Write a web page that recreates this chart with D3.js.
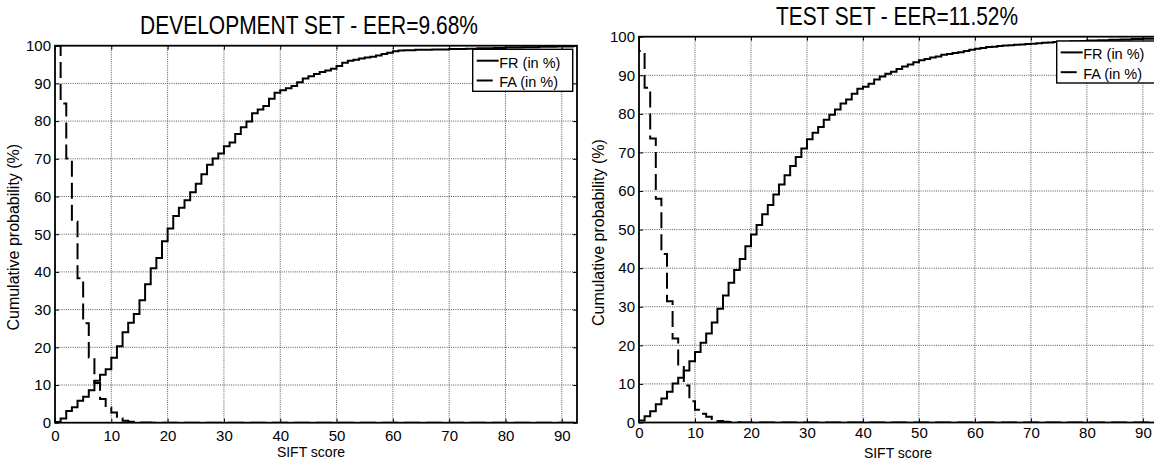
<!DOCTYPE html>
<html><head><meta charset="utf-8">
<script src="https://cdn.jsdelivr.net/npm/d3@7"></script>
<style>
body{margin:0;background:#fff}
svg{display:block;background:#fff}
text{font-family:"Liberation Sans",Arial,Helvetica,sans-serif;fill:#000}
</style>
</head><body>
<svg id="c" width="1154" height="462"></svg>
<script>
// ---------- DATA ----------
const xTickLabels = [0,10,20,30,40,50,60,70,80,90];
const yTickLabels = [0,10,20,30,40,50,60,70,80,90,100];
const seriesNames = ["FR (in %)", "FA (in %)"];
const titles = ["DEVELOPMENT SET - EER=9.68%", "TEST SET - EER=11.52%"];
const xLabel = "SIFT score";
const yLabel = "Cumulative probability (%)";
const scoreMax = 92.7;

// value of each 1-point score bin, bins starting at 0,1,2,...,92
const devFR = [0.2,1.1,3.1,4.1,5.8,6.9,8.6,11.1,12.7,14.2,
  17.2,20.3,24.0,26.5,28.8,32.5,36.7,41.0,43.7,48.1,
  51.5,54.8,57.0,59.0,61.1,63.4,65.9,68.4,70.1,71.4,
  73.3,74.3,76.6,78.4,79.9,82.1,83.1,84.0,85.9,87.5,
  88.2,88.7,89.3,90.3,91.3,91.9,92.5,93.0,93.4,93.9,
  94.6,95.5,96.0,96.3,96.6,96.9,97.1,97.4,97.8,98.1,
  98.5,98.7,98.8,98.8,98.9,98.9,98.9,99.0,99.0,99.0,
  99.1,99.1,99.1,99.2,99.2,99.3,99.3,99.3,99.4,99.4,
  99.5,99.5,99.5,99.6,99.6,99.6,99.7,99.7,99.7,99.8,
  99.8,99.8,99.9];
const devFAStart = 100;
const devFA = [100,84.7,70.1,53.3,38.3,26.4,17.3,10.5,6.3,4.0,
  2.7,1.2,0.5,0.25,0.12,0.06,0.03,0,0,0,
  0,0,0,0,0,0,0,0,0,0, 0,0,0,0,0,0,0,0,0,0,
  0,0,0,0,0,0,0,0,0,0, 0,0,0,0,0,0,0,0,0,0,
  0,0,0,0,0,0,0,0,0,0, 0,0,0,0,0,0,0,0,0,0,
  0,0,0,0,0,0,0,0,0,0, 0,0,0];

const testFR = [0.5,1.6,2.9,4.7,6.2,8.0,10.1,11.6,13.5,15.9,
  18.3,20.7,23.1,25.9,29.5,32.9,36.2,39.5,42.4,45.7,
  48.7,51.2,54.0,56.4,59.1,61.7,64.1,66.5,68.8,71.0,
  73.4,75.1,76.6,78.5,79.8,81.1,82.7,83.7,85.2,86.5,
  87.0,87.8,88.9,89.7,90.4,90.9,91.6,92.3,92.8,93.4,
  93.9,94.2,94.6,94.9,95.3,95.5,95.8,96.0,96.3,96.6,
  96.9,97.1,97.3,97.4,97.6,97.7,97.8,97.9,98.0,98.1,
  98.2,98.3,98.4,98.5,98.6,98.7,98.7,98.8,98.8,98.9,
  99.0,99.0,99.1,99.1,99.2,99.2,99.3,99.3,99.4,99.4,
  99.5,99.5,99.5];
const testFAStart = 100;
const testFA = [96.3,86.8,73.6,58.0,43.7,31.4,21.8,14.7,9.6,5.5,
  3.3,2.3,1.5,0.9,0.4,0.2,0.1,0.05,0,0,
  0,0,0,0,0,0,0,0,0,0, 0,0,0,0,0,0,0,0,0,0,
  0,0,0,0,0,0,0,0,0,0, 0,0,0,0,0,0,0,0,0,0,
  0,0,0,0,0,0,0,0,0,0, 0,0,0,0,0,0,0,0,0,0,
  0,0,0,0,0,0,0,0,0,0, 0,0,0];

// ---------- LAYOUT ----------
const panels = [
  {x0:55, x1:577, yTop:45.7, yBot:422.7, fr:devFR, fa:devFA, faStart:devFAStart, title:titles[0],
   titleX:309, titleY:34, titleLen:338, ylabX:19, xTickPad:7.3, xlabY:457, xlabX:311, legX:472.7, legY:49.3},
  {x0:639, x1:1158, yTop:36.7, yBot:422.5, fr:testFR, fa:testFA, faStart:testFAStart, title:titles[1],
   titleX:897, titleY:24.5, titleLen:242, ylabX:604, xTickPad:5, xlabY:458, xlabX:898, legX:1056.7, legY:41}
];

const svg = d3.select("#c");

panels.forEach((p, pi) => {
  const x = d3.scaleLinear().domain([0, scoreMax]).range([p.x0, p.x1]);
  const y = d3.scaleLinear().domain([0, 100]).range([p.yBot, p.yTop]);
  const g = svg.append("g");

  const clipId = "clip" + pi;
  g.append("clipPath").attr("id", clipId).append("rect")
    .attr("x", p.x0).attr("y", p.yTop).attr("width", p.x1 - p.x0).attr("height", p.yBot - p.yTop);

  // grid
  const gridX = xTickLabels.filter(v => v > 0);
  const gridY = yTickLabels.filter(v => v > 0 && v < 100);
  g.selectAll(".gx").data(gridX).join("line")
    .attr("x1", d => x(d)).attr("x2", d => x(d)).attr("y1", p.yTop).attr("y2", p.yBot)
    .attr("stroke", "#555").attr("stroke-width", 1).attr("stroke-dasharray", "1,1.2");
  g.selectAll(".gy").data(gridY).join("line")
    .attr("x1", p.x0).attr("x2", p.x1).attr("y1", d => y(d)).attr("y2", d => y(d))
    .attr("stroke", "#555").attr("stroke-width", 1).attr("stroke-dasharray", "1,1.2");

  // axes
  const axB = g.append("g").attr("transform", `translate(0,${p.yBot})`)
    .call(d3.axisBottom(x).tickValues(xTickLabels).tickSizeInner(-4).tickSizeOuter(0).tickPadding(p.xTickPad));
  const axL = g.append("g").attr("transform", `translate(${p.x0},0)`)
    .call(d3.axisLeft(y).tickValues(yTickLabels).tickSizeInner(-4).tickSizeOuter(0).tickPadding(4));
  const axT = g.append("g").attr("transform", `translate(0,${p.yTop})`)
    .call(d3.axisTop(x).tickValues(xTickLabels).tickSizeInner(-4).tickSizeOuter(0).tickFormat(""));
  const axR = g.append("g").attr("transform", `translate(${p.x1},0)`)
    .call(d3.axisRight(y).tickValues(yTickLabels).tickSizeInner(-4).tickSizeOuter(0).tickFormat(""));
  [axB, axL, axT, axR].forEach(a => {
    a.select(".domain").remove();
    a.selectAll("line").attr("stroke", "#000").attr("stroke-width", 1);
    a.selectAll("text").attr("font-size", 15).attr("font-family", '"Liberation Sans",Arial,sans-serif').attr("fill", "#000");
  });

  // step lines
  const line = d3.line().x(d => x(d[0])).y(d => y(d[1])).curve(d3.curveStepAfter);
  const bins = d3.range(p.fr.length);
  const frPts = bins.map(i => [i, p.fr[i]]).concat([[scoreMax, p.fr[p.fr.length - 1]]]);
  const faPts = [[0, p.faStart]].concat(bins.map(i => [i, p.fa[i]])).concat([[scoreMax, p.fa[p.fa.length - 1]]]);

  const lines = g.append("g").attr("clip-path", `url(#${clipId})`);
  lines.append("path").attr("d", line(faPts)).attr("fill", "none")
    .attr("stroke", "#000").attr("stroke-width", 2).attr("stroke-dasharray", "16,6");
  lines.append("path").attr("d", line(frPts)).attr("fill", "none")
    .attr("stroke", "#000").attr("stroke-width", 2);

  // frame
  g.append("rect").attr("x", p.x0).attr("y", p.yTop).attr("width", p.x1 - p.x0).attr("height", p.yBot - p.yTop)
    .attr("fill", "none").attr("stroke", "#000").attr("stroke-width", 1.8);

  // title
  g.append("text").attr("x", p.titleX).attr("y", p.titleY).attr("text-anchor", "middle")
    .attr("font-size", 25).attr("textLength", p.titleLen).attr("lengthAdjust", "spacingAndGlyphs")
    .text(p.title);

  // axis labels
  g.append("text").attr("x", p.xlabX).attr("y", p.xlabY).attr("text-anchor", "middle")
    .attr("font-size", 14).text(xLabel);
  g.append("text").attr("transform", `translate(${p.ylabX},${(p.yTop + p.yBot) / 2 + 3}) rotate(-90)`)
    .attr("text-anchor", "middle").attr("font-size", 16).text(yLabel);

  // legend
  const lg = g.append("g").attr("transform", `translate(${p.legX},${p.legY})`);
  lg.append("rect").attr("width", 100).attr("height", 42).attr("fill", "#fff")
    .attr("stroke", "#000").attr("stroke-width", 1.4);
  const rows = [{name: seriesNames[0], dash: null, len: 22, yy: 11.4},
                {name: seriesNames[1], dash: "16,6", len: 17, yy: 31.2}];
  rows.forEach(r => {
    lg.append("line").attr("x1", 4).attr("x2", 4 + r.len).attr("y1", r.yy).attr("y2", r.yy)
      .attr("stroke", "#000").attr("stroke-width", 2).attr("stroke-dasharray", r.dash);
    lg.append("text").attr("x", 26.5).attr("y", r.yy + 7).attr("font-size", 14.5).text(r.name);
  });
});
</script>
</body></html>
